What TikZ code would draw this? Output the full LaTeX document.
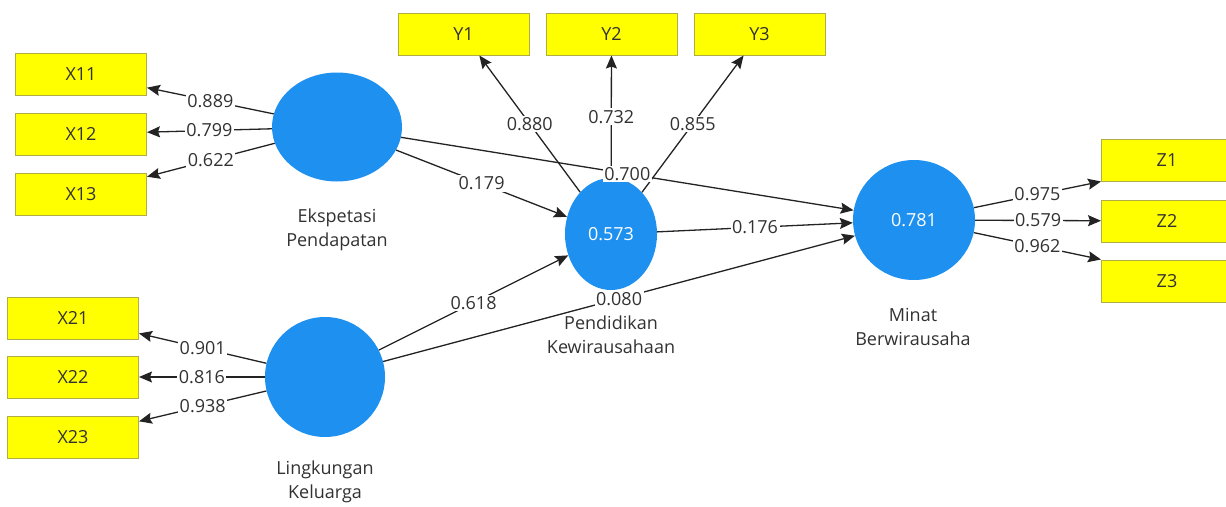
\documentclass[tikz,border=0pt]{standalone}
\usepackage{fontspec}
\setmainfont{Open Sans}
\usetikzlibrary{shapes.geometric,arrows.meta}
\definecolor{lvblue}{RGB}{30,144,240}
\definecolor{boxyel}{RGB}{255,255,0}
\definecolor{boxedge}{RGB}{175,175,70}
\definecolor{txtgray}{RGB}{50,50,50}
\definecolor{linegray}{RGB}{35,35,35}
\tikzset{
  ind/.style={rectangle, fill=boxyel, draw=boxedge, line width=1pt, minimum width=131pt, minimum height=42pt, inner sep=0pt, text=txtgray, font=\fontsize{18}{21}\selectfont},
  lv/.style={ellipse, fill=lvblue, inner sep=0pt, text=white, font=\fontsize{18}{21}\selectfont},
  lvname/.style={align=center, text=txtgray, font=\fontsize{18}{24}\selectfont, inner sep=0pt},
  conn/.style={draw=linegray, line width=1.3pt, -{Stealth[length=13pt,width=11pt,inset=2pt]}},
  val/.style={fill=white, inner sep=1.5pt, text=txtgray, font=\fontsize{18}{21}\selectfont}
}
\begin{document}
\begin{tikzpicture}[x=1pt,y=-1pt]
\useasboundingbox (0,0) rectangle (1226,506);
\clip (0,0) rectangle (1226,506);
\fill[white] (0,0) rectangle (1226,506);
% indicators
\node[ind] (x11) at (81,74) {X11};
\node[ind] (x12) at (81,134) {X12};
\node[ind] (x13) at (81,194) {X13};
\node[ind] (x21) at (73,318) {X21};
\node[ind] (x22) at (73,377) {X22};
\node[ind] (x23) at (73,437) {X23};
\node[ind] (y1) at (463.5,34) {Y1};
\node[ind] (y2) at (611.5,34) {Y2};
\node[ind] (y3) at (759.5,34) {Y3};
\node[ind] (z1) at (1167,160) {Z1};
\node[ind] (z2) at (1167,221) {Z2};
\node[ind] (z3) at (1167,281) {Z3};
% latent variables
\node[lv, minimum width=130pt, minimum height=109pt] (ek) at (337,127) {};
\node[lv, minimum width=120pt, minimum height=120pt] (lk) at (325,377) {};
\node[lv, minimum width=92pt, minimum height=112pt] (pe) at (611,234) {0.573};
\node[lv, minimum width=122pt, minimum height=120pt] (mi) at (914,220) {0.781};
% names
\node[lvname] (ekn) at (337,230) {Ekspetasi\\Pendapatan};
\node[lvname] (pen) at (611,335) {Pendidikan\\Kewirausahaan};
\node[lvname] (lkn) at (325,482) {Lingkungan\\Keluarga};
\node[lvname] (min) at (913,327) {Minat\\Berwirausaha};
% connectors
\draw[conn] (ek) -- (x11);
\draw[conn] (ek) -- (x12);
\draw[conn] (ek) -- (x13);
\draw[conn] (lk) -- (x21);
\draw[conn] (lk) -- (x22);
\draw[conn] (lk) -- (x23);
\draw[conn] (pe) -- (y1);
\draw[conn] (pe) -- (y2);
\draw[conn] (pe) -- (y3);
\draw[conn] (ek) -- (mi);
\draw[conn] (ek) -- (pe);
\draw[conn] (lk) -- (pe);
\draw[conn] (lk) -- (mi);
\draw[conn] (pe) -- (mi);
\draw[conn] (mi) -- (z1.south west);
\draw[conn] (mi) -- (z2);
\draw[conn] (mi) -- (z3.north west);
% values
\path (ek) -- node[val] {0.889} (x11);
\path (ek) -- node[val] {0.799} (x12);
\path (ek) -- node[val] {0.622} (x13);
\path (lk) -- node[val] {0.901} (x21);
\path (lk) -- node[val] {0.816} (x22);
\path (lk) -- node[val] {0.938} (x23);
\path (pe) -- node[val] {0.880} (y1);
\path (pe) -- node[val] {0.732} (y2);
\path (pe) -- node[val] {0.855} (y3);
\path (ek) -- node[val] {0.700} (mi);
\path (ek) -- node[val] {0.179} (pe);
\path (lk) -- node[val] {0.618} (pe);
\path (lk) -- node[val] {0.080} (mi);
\path (pe) -- node[val] {0.176} (mi);
\path (mi) -- node[val] {0.975} (z1.south west);
\path (mi) -- node[val] {0.579} (z2);
\path (mi) -- node[val] {0.962} (z3.north west);
\end{tikzpicture}
\end{document}
